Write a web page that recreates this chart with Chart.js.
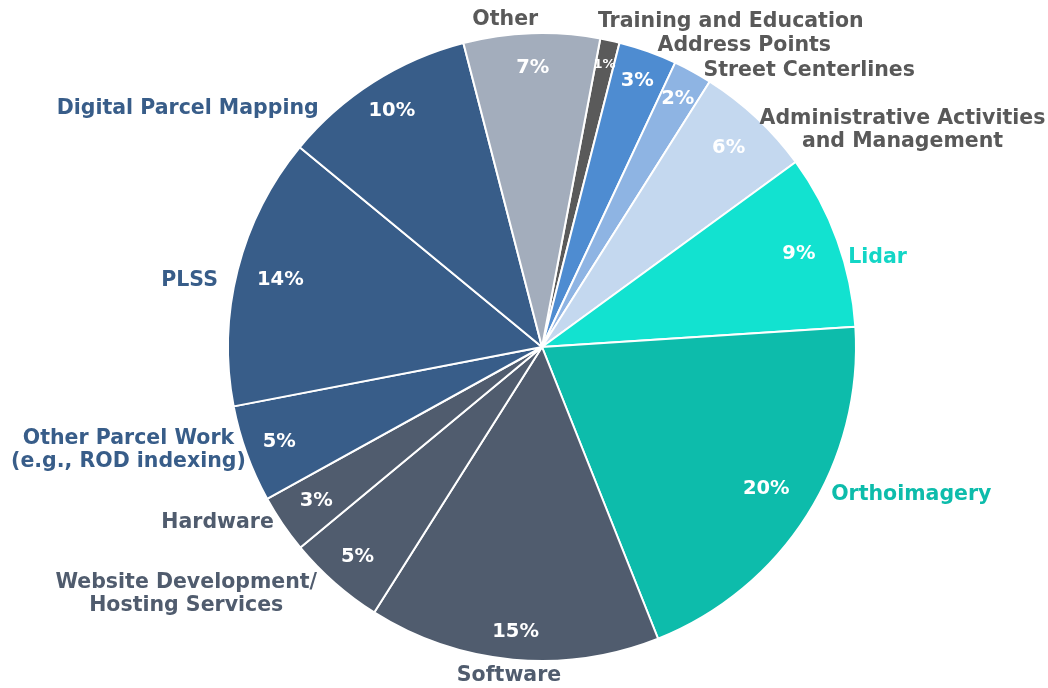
<!DOCTYPE html>
<html lang="en">
<head>
    <meta charset="UTF-8">
    <title>GIS Spending by Category</title>
    <script src="https://cdn.jsdelivr.net/npm/chart.js"></script>
    <style>
        html, body { margin: 0; padding: 0; background: #fff; }
        canvas { display: block; }
    </style>
</head>
<body>
    <canvas id="pieChart" width="1048" height="688"></canvas>

    <script>
        // categories, clockwise starting just right of 12 o'clock
        const categories = [
            ['Training and Education'],
            ['Address Points'],
            ['Street Centerlines'],
            ['Administrative Activities', 'and Management'],
            ['Lidar'],
            ['Orthoimagery'],
            ['Software'],
            ['Website Development/', 'Hosting Services'],
            ['Hardware'],
            ['Other Parcel Work', '(e.g., ROD indexing)'],
            ['PLSS'],
            ['Digital Parcel Mapping'],
            ['Other']
        ];
        const shares = [1, 3, 2, 6, 9, 20, 15, 5, 3, 5, 14, 10, 7];

        const sliceColors = ['#5a5a5a', '#4e8cd1', '#8eb4e3', '#c4d8ef', '#12e2d0', '#0dbcab',
            '#505c6e', '#505c6e', '#505c6e', '#385d89', '#385d89', '#385d89', '#a3adbc'];
        const labelColors = ['#595959', '#595959', '#595959', '#595959', '#13d6c6', '#0dbcab',
            '#505c6e', '#505c6e', '#505c6e', '#385d89', '#385d89', '#385d89', '#595959'];

        // label placement, in units of the pie radius from its centre
        const pctRadius = [0.92, 0.90, 0.90, 0.87, 0.87, 0.845, 0.91, 0.89, 0.87, 0.89, 0.86, 0.89, 0.89];
        const outerPos = [
            [0.178, -1.035, 'left'], [0.368, -0.959, 'left'], [0.514, -0.879, 'left'],
            [1.148, -0.690, 'center'], [0.975, -0.286, 'left'], [0.921, 0.470, 'left'],
            [-0.105, 1.048, 'center'], [-1.133, 0.786, 'center'], [-0.854, 0.559, 'right'],
            [-1.317, 0.327, 'center'], [-1.032, -0.210, 'right'], [-0.711, -0.759, 'right'],
            [-0.117, -1.044, 'center']
        ];

        const FONT = '"DejaVu Sans", sans-serif';

        const pieLabels = {
            id: 'pieLabels',
            afterDatasetsDraw(chart) {
                const ctx = chart.ctx;
                const meta = chart.getDatasetMeta(0);
                ctx.save();
                ctx.textBaseline = 'middle';
                meta.data.forEach((arc, i) => {
                    const p = arc.getProps(['x', 'y', 'startAngle', 'endAngle', 'outerRadius'], true);
                    const mid = (p.startAngle + p.endAngle) / 2;
                    const R = p.outerRadius;

                    // percentage inside the slice
                    const r = R * pctRadius[i];
                    ctx.fillStyle = '#ffffff';
                    ctx.textAlign = 'center';
                    ctx.font = (shares[i] < 2 ? 'bold 13px ' : 'bold 19.5px ') + FONT;
                    ctx.fillText(shares[i] + '%', p.x + Math.cos(mid) * r, p.y + Math.sin(mid) * r);

                    // category name outside
                    const [dx, dy, align] = outerPos[i];
                    const lines = categories[i];
                    const lh = 23;
                    ctx.fillStyle = labelColors[i];
                    ctx.textAlign = align;
                    ctx.font = 'bold 20.5px ' + FONT;
                    lines.forEach((line, k) => {
                        const y = p.y + dy * R + (k - (lines.length - 1) / 2) * lh;
                        ctx.fillText(line, p.x + dx * R, y);
                    });
                });
                ctx.restore();
            }
        };

        new Chart(document.getElementById('pieChart'), {
            type: 'pie',
            data: {
                labels: categories.map(c => c.join(' ')),
                datasets: [{
                    data: shares,
                    backgroundColor: sliceColors,
                    borderColor: '#ffffff',
                    borderWidth: 2
                }]
            },
            options: {
                responsive: false,
                animation: false,
                rotation: 10.7,
                layout: { padding: { left: 227, right: 191, top: 32, bottom: 26 } },
                plugins: {
                    legend: { display: false },
                    tooltip: { enabled: false }
                }
            },
            plugins: [pieLabels]
        });
    </script>
</body>
</html>
